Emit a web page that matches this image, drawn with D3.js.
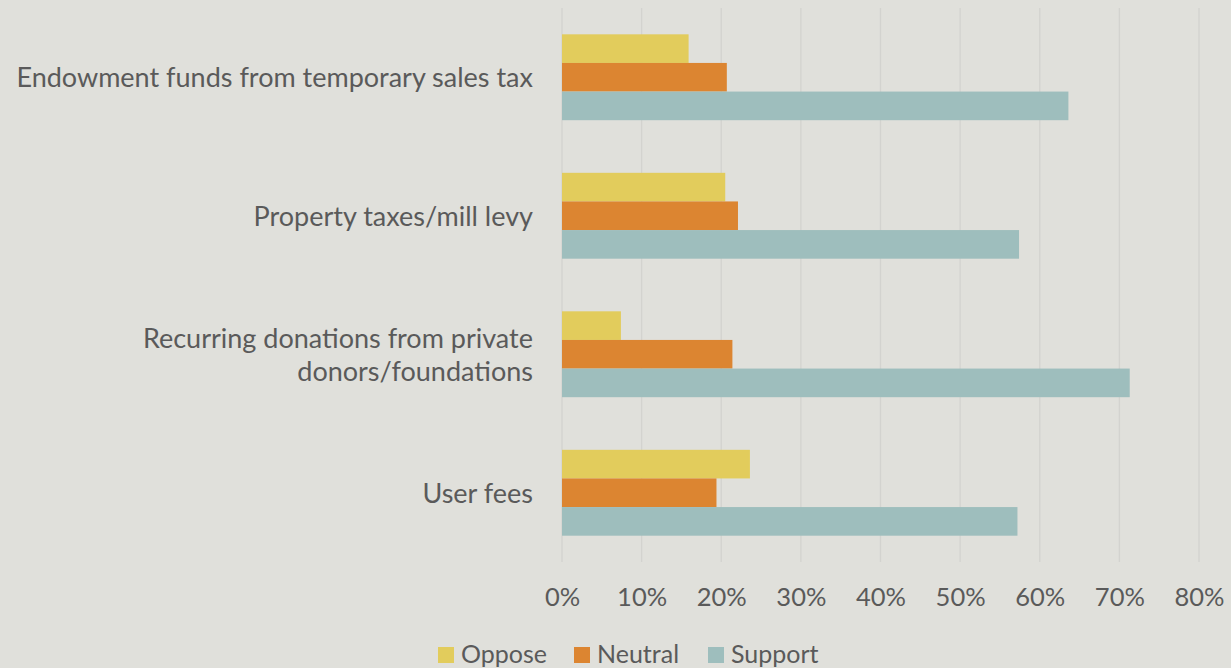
<!DOCTYPE html>
<html>
<head>
<meta charset="utf-8">
<script src="https://cdn.jsdelivr.net/npm/d3@7"></script>
<style>
  html, body { margin: 0; padding: 0; background: #e0e0db; }
  svg text { font-family: Lato, "Open Sans", sans-serif; fill: #5a5a5a; }
</style>
</head>
<body>
<svg id="chart"></svg>
<script>
// Data
const categories = [
  "Endowment funds from temporary sales tax",
  "Property taxes/mill levy",
  "Recurring donations from private donors/foundations",
  "User fees"
];
const categoryLines = [
  ["Endowment funds from temporary sales tax"],
  ["Property taxes/mill levy"],
  ["Recurring donations from private", "donors/foundations"],
  ["User fees"]
];
const series = ["Oppose", "Neutral", "Support"];
const oppose  = [0.159, 0.205, 0.074, 0.236];
const neutral = [0.207, 0.221, 0.214, 0.194];
const support = [0.636, 0.574, 0.713, 0.572];
const tickValues = [0, 0.1, 0.2, 0.3, 0.4, 0.5, 0.6, 0.7, 0.8];
const colors = ["#e2cc5c", "#dc8531", "#9ebebd"];

const width = 1231;
const height = 668;
const margin = { top: 8, right: 32, bottom: 106, left: 562 };

const svg = d3.select("#chart")
    .attr("width", width)
    .attr("height", height);

svg.append("rect")
    .attr("width", width)
    .attr("height", height)
    .attr("fill", "#e0e0db");

const x = d3.scaleLinear()
    .domain([0, 0.8])
    .range([margin.left, width - margin.right]);

const y = d3.scaleBand()
    .domain(categories)
    .range([margin.top, height - margin.bottom])
    .paddingInner(0.38)
    .paddingOuter(0.19);

const ySeries = d3.scaleBand()
    .domain(series)
    .range([0, y.bandwidth()]);

const color = d3.scaleOrdinal().domain(series).range(colors);

// Gridlines
svg.append("g")
    .selectAll("line")
    .data(tickValues)
    .join("line")
    .attr("x1", d => x(d))
    .attr("x2", d => x(d))
    .attr("y1", margin.top)
    .attr("y2", height - margin.bottom)
    .attr("stroke", "#d3d3cf")
    .attr("stroke-width", 1.3);

// Bars
const rows = categories.map((c, i) => ({
    category: c,
    values: [oppose[i], neutral[i], support[i]]
}));

const groups = svg.append("g")
    .selectAll("g")
    .data(rows)
    .join("g")
    .attr("transform", d => `translate(0,${y(d.category)})`);

groups.selectAll("rect")
    .data(d => d.values.map((v, j) => ({ key: series[j], value: v })))
    .join("rect")
    .attr("x", x(0))
    .attr("y", d => ySeries(d.key))
    .attr("width", d => x(d.value) - x(0))
    .attr("height", ySeries.bandwidth())
    .attr("fill", d => color(d.key));

// X axis labels
const xAxis = d3.axisBottom(x)
    .tickValues(tickValues)
    .tickFormat(d3.format(".0%"))
    .tickSize(0)
    .tickPadding(0);

const xAxisGroup = svg.append("g")
    .attr("transform", `translate(0,${height - margin.bottom})`)
    .call(xAxis);
xAxisGroup.select(".domain").remove();
xAxisGroup.selectAll("text")
    .attr("y", 44)
    .attr("dy", 0)
    .attr("font-size", 25.5)
    .attr("font-family", "Lato, 'Open Sans', sans-serif")
    .attr("fill", "#5a5a5a");

// Category labels
const labels = svg.append("g")
    .selectAll("text")
    .data(categories)
    .join("text")
    .attr("text-anchor", "end")
    .attr("font-size", 27)
    .attr("x", 533)
    .attr("y", d => y(d) + y.bandwidth() / 2);

labels.each(function(d, i) {
    const lines = categoryLines[i];
    const lineH = 33;
    const start = -(lines.length - 1) * lineH / 2;
    d3.select(this).selectAll("tspan")
        .data(lines)
        .join("tspan")
        .attr("x", 533)
        .attr("dy", (l, k) => k === 0 ? start + 10 : lineH)
        .text(l => l);
});

// Legend
const legendX = [438, 574, 708];
const legend = svg.append("g")
    .selectAll("g")
    .data(series)
    .join("g")
    .attr("transform", (d, i) => `translate(${legendX[i]},647)`);

legend.append("rect")
    .attr("width", 16)
    .attr("height", 16)
    .attr("fill", d => color(d));

legend.append("text")
    .attr("x", 23)
    .attr("y", 16)
    .attr("font-size", 25)
    .text(d => d);
</script>
</body>
</html>
